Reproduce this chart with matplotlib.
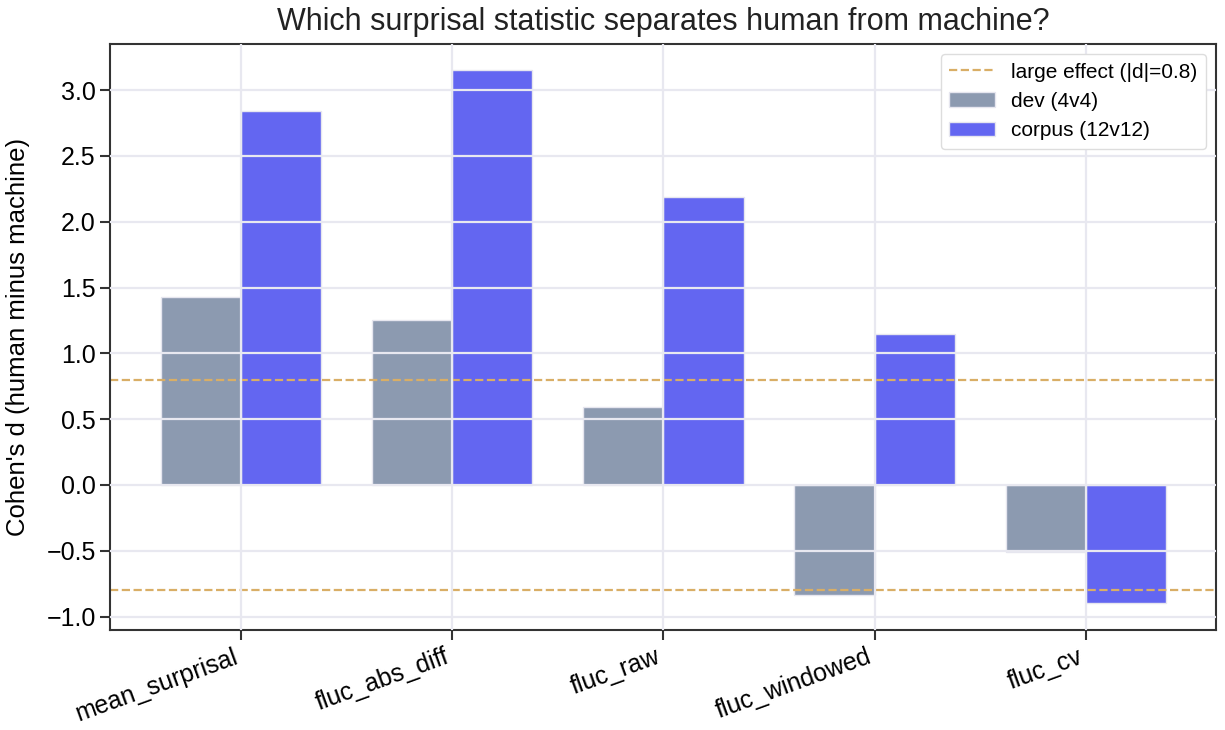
import numpy as np
import matplotlib
matplotlib.use("Agg")
import matplotlib.pyplot as plt

# data
stats = ["mean_surprisal", "fluc_abs_diff", "fluc_raw", "fluc_windowed", "fluc_cv"]
dev_d = [1.43, 1.25, 0.59, -0.84, -0.51]
corpus_d = [2.84, 3.15, 2.19, 1.15, -0.90]
large_effect = 0.8

plt.rcParams["font.family"] = ["Liberation Sans", "DejaVu Sans"]

fig, ax = plt.subplots(figsize=(12.25, 7.3), dpi=100)

x = np.arange(len(stats))
w = 0.38

ax.bar(x - w / 2, dev_d, w, color="#8c9ab0", edgecolor="#e6e6ef",
       linewidth=1, label="dev (4v4)")
ax.bar(x + w / 2, corpus_d, w, color="#6366f1", edgecolor="#e6e6ef",
       linewidth=1, label="corpus (12v12)")

ax.axhline(large_effect, color="#d9ae66", linestyle="--", linewidth=1.6,
           label="large effect (|d|=0.8)")
ax.axhline(-large_effect, color="#d9ae66", linestyle="--", linewidth=1.6)
ax.axhline(0, color="#2a2a2a", linewidth=1.4)

ax.set_axisbelow(False)
ax.grid(True, color="#e8e8f0", linewidth=1.6)

ax.set_xticks(x)
ax.set_xticklabels(stats, rotation=20, ha="right", fontsize=18)
ax.tick_params(axis="y", labelsize=18)
ax.tick_params(axis="both", length=7, width=1.5, color="#333333")
ax.set_ylabel("Cohen's d (human minus machine)", fontsize=18.5, labelpad=12)
ax.set_title("Which surprisal statistic separates human from machine?",
             fontsize=22, color="#222222", pad=10)

for s in ax.spines.values():
    s.set_color("#333333")
    s.set_linewidth(1.5)

# legend: dashed line first, then the two bar series
handles, labels = ax.get_legend_handles_labels()
ax.legend(handles, labels, loc="upper right", fontsize=15, framealpha=1,
          edgecolor="#dddddd", handlelength=2.2)

plt.subplots_adjust(left=0.09, right=0.993, top=0.94, bottom=0.137)
plt.savefig("out.png", dpi=100)
